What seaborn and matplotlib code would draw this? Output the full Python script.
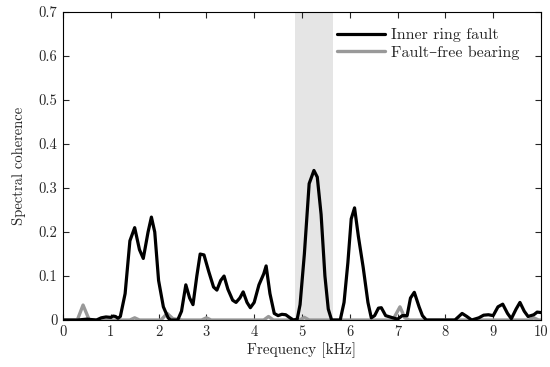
import matplotlib
matplotlib.use("Agg")
import matplotlib.pyplot as plt
import seaborn as sns
import pandas as pd

# Data
fault_freq = [0.0, 0.3, 0.5, 0.7, 0.8, 0.9, 1.0, 1.05, 1.1, 1.15, 1.2, 1.3, 1.4, 1.5, 1.6, 1.68,
              1.78, 1.85, 1.92, 2.0, 2.1, 2.2, 2.25, 2.4, 2.48, 2.57, 2.65, 2.72, 2.8, 2.87, 2.95,
              3.05, 3.15, 3.22, 3.3, 3.37, 3.45, 3.55, 3.62, 3.7, 3.77, 3.85, 3.92, 4.0, 4.1, 4.2,
              4.25, 4.33, 4.42, 4.5, 4.58, 4.66, 4.75, 4.82, 4.9, 4.96, 5.05, 5.15, 5.25, 5.32,
              5.4, 5.48, 5.55, 5.62, 5.8, 5.88, 5.96, 6.03, 6.1, 6.18, 6.28, 6.38, 6.45, 6.52,
              6.6, 6.66, 6.75, 6.9, 7.0, 7.1, 7.2, 7.27, 7.35, 7.45, 7.52, 7.6, 8.2, 8.35, 8.45,
              8.55, 8.7, 8.8, 8.9, 9.0, 9.1, 9.2, 9.3, 9.38, 9.48, 9.56, 9.65, 9.73, 9.85, 9.92, 10.0]
fault_coh = [0.0, 0.0, 0.002, 0.0, 0.005, 0.007, 0.006, 0.009, 0.008, 0.004, 0.008, 0.06, 0.18,
             0.21, 0.16, 0.14, 0.2, 0.234, 0.2, 0.09, 0.03, 0.005, 0.0, 0.0, 0.02, 0.08, 0.05,
             0.035, 0.1, 0.15, 0.148, 0.11, 0.075, 0.068, 0.09, 0.1, 0.07, 0.045, 0.04, 0.05,
             0.064, 0.04, 0.028, 0.04, 0.08, 0.105, 0.123, 0.06, 0.015, 0.01, 0.013, 0.012,
             0.005, 0.0, 0.002, 0.035, 0.15, 0.31, 0.34, 0.325, 0.24, 0.1, 0.025, 0.0, 0.0,
             0.04, 0.13, 0.23, 0.255, 0.19, 0.12, 0.04, 0.005, 0.01, 0.027, 0.028, 0.01, 0.005,
             0.002, 0.01, 0.01, 0.05, 0.063, 0.03, 0.01, 0.0, 0.0, 0.015, 0.008, 0.0, 0.005,
             0.011, 0.012, 0.01, 0.03, 0.036, 0.015, 0.003, 0.025, 0.04, 0.02, 0.008, 0.012,
             0.018, 0.017]

healthy_freq = [0.0, 0.3, 0.42, 0.55, 1.4, 1.5, 1.6, 2.05, 2.18, 2.3, 2.5, 2.9, 3.0, 3.1, 4.2,
                4.3, 4.4, 4.95, 5.05, 5.15, 6.9, 7.05, 7.15, 7.25, 9.75, 9.85, 9.95, 10.0]
healthy_coh = [0.0, 0.0, 0.034, 0.0, 0.0, 0.005, 0.0, 0.0, 0.015, 0.003, 0.0, 0.0, 0.005, 0.0,
               0.0, 0.008, 0.0, 0.0, 0.006, 0.0, 0.0, 0.03, 0.005, 0.0, 0.0, 0.005, 0.0, 0.0]

band = [4.85, 5.65]
yticks = [0, 0.1, 0.2, 0.3, 0.4, 0.5, 0.6, 0.7]
ytick_labels = ["0", "0.1", "0.2", "0.3", "0.4", "0.5", "0.6", "0.7"]
xticks = [0, 1, 2, 3, 4, 5, 6, 7, 8, 9, 10]

sns.set_style("ticks")
plt.rcParams["font.family"] = ["cmr10", "DejaVu Serif"]
plt.rcParams["mathtext.fontset"] = "cm"
plt.rcParams["axes.formatter.use_mathtext"] = True
plt.rcParams["font.size"] = 10.5

fig = plt.figure(figsize=(5.5, 3.67), dpi=100)
ax = fig.add_axes([0.1145, 0.128, 0.8691, 0.839])

ax.axvspan(band[0], band[1], color="#e5e5e5", lw=0, zorder=0)

df_f = pd.DataFrame({"f": fault_freq, "c": fault_coh})
df_h = pd.DataFrame({"f": healthy_freq, "c": healthy_coh})
sns.lineplot(data=df_h, x="f", y="c", ax=ax, color="#999999", lw=2.4, zorder=2)
sns.lineplot(data=df_f, x="f", y="c", ax=ax, color="black", lw=2.3, zorder=3)

lines = ax.get_lines()
ax.legend([lines[1], lines[0]], ["Inner ring fault", "Fault–free bearing"], loc="upper right",
          bbox_to_anchor=(0.981, 0.99), frameon=False, fontsize=11.5, handlelength=3.0,
          borderaxespad=0.4, labelspacing=0.2, handletextpad=0.35)

ax.set_xlim(0, 10)
ax.set_ylim(0, 0.7)
ax.set_xticks(xticks)
ax.set_xticklabels([str(t) for t in xticks])
ax.set_yticks(yticks)
ax.set_yticklabels(ytick_labels)
ax.set_xlabel("Frequency [kHz]", labelpad=2, fontsize=11)
ax.set_ylabel("Spectral coherence", labelpad=9)
ax.tick_params(direction="in", top=True, right=True, length=4, width=0.8, labelsize=10.5, pad=4)
for s in ax.spines.values():
    s.set_linewidth(0.8)
    s.set_color("black")

fig.savefig("out.png", dpi=100)
